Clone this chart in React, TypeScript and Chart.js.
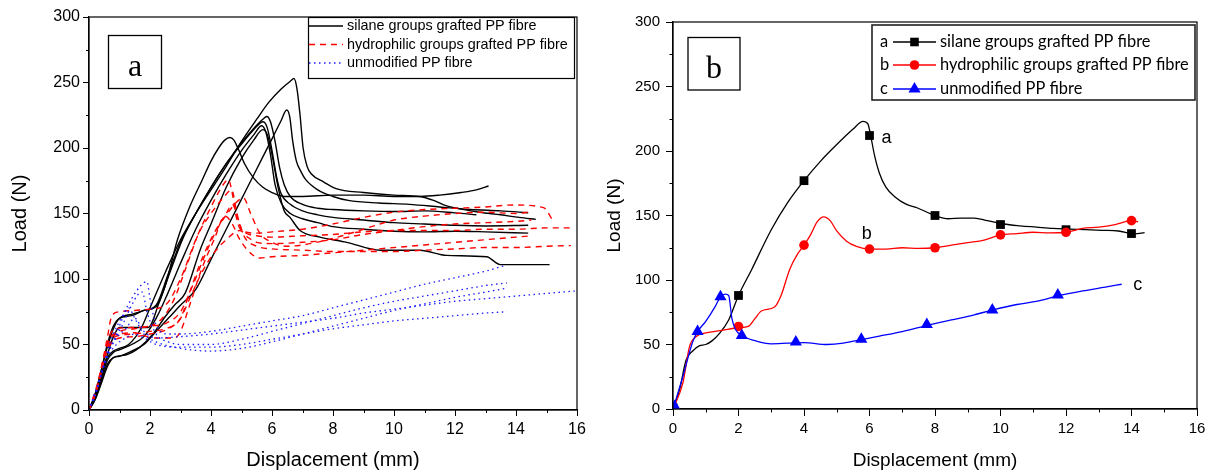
import React, { useEffect, useRef } from "react";
import { Chart, registerables } from "chart.js";

Chart.register(...registerables);

type P = [number, number];

// ---------------- Panel (a): individual specimens ----------------
const silaneA1: P[] = [[0,0],[0.2,10],[0.4,26],[0.6,40],[0.8,45],[1.0,47],[1.3,50],[1.7,62],[2.0,78],[2.5,105],[3.0,130],[3.5,150],[4.0,168],[4.5,186],[5.0,205],[5.5,222],[5.9,235],[6.3,245],[6.6,251],[6.72,253],[6.82,245],[6.92,225],[7.02,200],[7.15,186],[7.3,180],[7.7,174],[8.1,169],[9.0,166],[10.0,164],[10.85,163],[11.3,160],[11.7,156],[12.3,153],[12.8,151],[13.5,149],[14.1,147],[14.65,145.5]];
const silaneA2: P[] = [[0,0],[0.2,8],[0.4,22],[0.6,35],[0.8,40],[1.0,41],[1.4,45],[1.8,50],[2.2,60],[2.6,70],[3.0,80],[3.5,92],[4.0,115],[4.5,138],[5.0,161],[5.5,184],[6.0,207],[6.3,221],[6.48,229],[6.58,224],[6.68,205],[6.8,190],[6.95,182],[7.1,176],[7.5,168],[8.0,163],[8.5,160],[9.5,158],[10.5,157],[11.5,155],[12.5,153],[13.5,152],[14.4,150.6]];
const silaneA3: P[] = [[0,0],[0.2,12],[0.4,30],[0.6,48],[0.8,62],[1.0,70],[1.4,73],[1.8,76],[2.2,80],[2.6,104],[3.0,128],[3.5,150],[4.0,170],[4.5,188],[5.0,204],[5.4,215],[5.7,222],[5.83,224],[5.95,220],[6.1,205],[6.25,185],[6.4,172],[6.6,163],[7.0,157],[7.5,154],[8.0,153],[9.0,152],[10.0,151.5],[11.0,152],[12.0,150.5],[12.7,149]];
const silaneA4: P[] = [[0,0],[0.2,10],[0.4,26],[0.6,42],[0.8,56],[1.0,63],[1.5,63],[1.94,63],[2.3,82],[2.7,108],[3.1,132],[3.5,150],[4.0,170],[4.5,188],[5.0,203],[5.4,214],[5.71,220],[5.85,215],[6.0,198],[6.15,178],[6.3,165],[6.6,157],[7.0,152],[7.5,149],[8.0,147],[9.0,145],[10.0,143],[11.0,142],[12.0,141],[13.0,140.5],[14.4,141]];
const silaneA5: P[] = [[0,0],[0.2,9],[0.4,24],[0.6,38],[0.8,44],[1.0,46],[1.4,50],[1.8,56],[2.2,70],[2.6,90],[3.0,112],[3.5,138],[4.0,160],[4.5,180],[5.0,198],[5.4,210],[5.66,217],[5.8,212],[5.95,195],[6.1,172],[6.3,158],[6.6,150],[7.0,146],[7.5,143],[8.0,140],[9.0,138],[10.0,136.5],[11.0,136],[12.0,136.5],[13.0,136],[14.4,135]];
const silaneA6: P[] = [[0,0],[0.2,12],[0.4,30],[0.6,50],[0.8,64],[1.0,70],[1.4,72],[1.8,76],[2.2,79],[2.5,95],[2.9,130],[3.3,155],[3.7,175],[4.0,190],[4.25,200],[4.45,206],[4.62,208],[4.75,206],[4.9,199],[5.1,188],[5.4,177],[5.7,170],[6.0,166],[6.4,163],[7.0,163],[8.0,164],[9.0,164],[10.0,163],[10.85,163],[11.5,164],[12.2,166],[12.7,168],[13.1,171]];
const silaneA7: P[] = [[0,0],[0.2,8],[0.4,20],[0.6,33],[0.8,40],[1.2,42],[1.67,48],[2.1,58],[2.49,71],[2.8,80],[3.15,89],[3.64,122],[4.0,142],[4.5,170],[5.0,192],[5.4,206],[5.7,214],[5.85,210],[6.0,195],[6.2,170],[6.4,152],[6.59,147],[6.92,137],[7.57,132],[8.45,128],[9.54,122],[10.85,122],[11.73,118],[13.04,117],[13.48,111],[15.1,111]];

const hydroA1: P[] = [[0,0],[0.2,12],[0.4,32],[0.6,55],[0.75,72],[1.0,75],[1.5,76],[2.0,77],[2.5,80],[3.0,100],[3.5,130],[4.0,155],[4.4,172],[4.57,176],[4.7,165],[4.85,145],[5.0,137],[5.5,135],[6.0,136],[7.0,138],[8.0,142],[9.0,147],[10.0,151],[11.0,153],[12.0,154],[13.0,155],[13.9,156.5],[14.9,154.5],[15.2,145]];
const hydroA2: P[] = [[0,0],[0.3,22],[0.5,42],[0.7,58],[0.9,62],[1.5,63],[2.0,64],[2.4,70],[2.8,85],[3.2,110],[3.6,135],[4.0,150],[4.4,162],[4.68,168],[4.85,150],[5.0,138],[5.5,133],[6.0,132],[7.0,133],[8.0,134],[9.0,136],[10.0,137],[11.0,137],[12.0,137],[13.0,138],[14.0,138],[15.0,139],[15.8,139]];
const hydroA3: P[] = [[0,0],[0.3,20],[0.5,40],[0.7,55],[1.0,60],[1.5,62],[2.0,64],[2.5,66],[3.0,75],[3.4,95],[3.8,118],[4.2,138],[4.6,152],[4.9,160],[5.06,162],[5.3,150],[5.6,135],[6.0,128],[6.5,125],[7.0,126],[8.0,131],[9.0,138],[9.54,142],[10.0,145],[11.0,148],[12.0,150],[13.0,151],[14.0,150],[14.4,151]];
const hydroA4: P[] = [[0,0],[0.25,15],[0.5,38],[0.7,52],[1.0,57],[1.5,58],[2.0,60],[2.5,62],[3.0,70],[3.3,90],[3.7,115],[4.1,135],[4.5,150],[4.7,157],[4.9,145],[5.1,132],[5.5,125],[6.0,123],[7.0,122],[8.0,121],[9.0,121],[10.0,121],[11.0,122],[12.0,123],[13.0,124],[14.0,124],[15.0,125],[15.8,125.5]];
const hydroA5: P[] = [[0,0],[0.3,20],[0.5,40],[0.7,55],[1.0,58],[1.5,59],[2.1,55],[2.8,55],[3.0,60],[3.3,80],[3.7,108],[4.1,130],[4.46,148],[4.7,142],[4.9,132],[5.2,122],[5.6,116],[6.0,117],[7.0,118],[8.0,120],[9.0,122],[10.0,124],[11.0,126],[12.0,128],[13.0,130],[14.0,132],[14.5,133]];
const hydroA6: P[] = [[0,0],[0.3,20],[0.5,40],[0.7,50],[1.0,55],[1.5,56],[2.0,58],[2.6,62],[3.0,70],[3.3,85],[3.7,105],[4.1,120],[4.5,130],[4.95,137],[5.2,132],[5.5,128],[6.0,127],[7.0,128],[8.0,130],[9.0,134],[10.0,137],[11.0,140],[12.0,142],[13.0,143],[14.0,144],[14.5,145]];

const unmodA1: P[] = [[0,0],[0.2,10],[0.4,28],[0.6,45],[0.8,58],[1.1,72],[1.4,85],[1.7,95],[1.9,98],[2.0,85],[2.2,65],[2.6,58],[3.0,58],[4.0,60],[5.0,64],[6.0,68],[7.0,72],[8.0,78],[9.0,84],[10.0,90],[11.0,96],[12.0,101],[13.0,106],[13.6,110]];
const unmodA2: P[] = [[0,0],[0.2,12],[0.5,35],[0.8,52],[1.1,65],[1.4,80],[1.6,88],[1.75,90],[1.9,75],[2.2,58],[2.6,52],[3.0,50],[4.0,50],[5.0,54],[6.0,60],[7.0,66],[8.0,72],[9.0,78],[10.0,83],[11.0,87],[12.0,91],[13.0,95],[13.7,97]];
const unmodA3: P[] = [[0,0],[0.3,18],[0.6,42],[0.9,58],[1.1,70],[1.3,78],[1.5,70],[1.8,58],[2.2,52],[3.0,47],[4.0,45],[5.0,47],[6.0,52],[7.0,58],[8.0,64],[9.0,70],[10.0,76],[11.0,81],[12.0,86],[13.0,90],[13.7,93]];
const unmodA4: P[] = [[0,0],[0.3,20],[0.6,42],[0.9,55],[1.2,62],[1.5,70],[1.8,60],[2.2,55],[3.0,56],[4.0,58],[5.0,61],[6.0,64],[7.0,67],[8.0,70],[9.0,74],[10.0,77],[11.0,80],[12.0,83],[13.0,85],[14.0,87],[15.0,89],[16.0,91]];
const unmodA5: P[] = [[0,0],[0.3,20],[0.6,40],[0.9,50],[1.2,55],[1.5,58],[1.8,55],[2.2,50],[3.0,48],[4.0,48],[5.0,50],[6.0,54],[7.0,58],[8.0,62],[9.0,65],[10.0,68],[11.0,70],[12.0,72],[13.0,74],[13.7,75]];

const silaneCurvesA = [silaneA1, silaneA2, silaneA3, silaneA4, silaneA5, silaneA6, silaneA7];
const hydroCurvesA = [hydroA1, hydroA2, hydroA3, hydroA4, hydroA5, hydroA6];
const unmodCurvesA = [unmodA1, unmodA2, unmodA3, unmodA4, unmodA5];

// ---------------- Panel (b): representative curves ----------------
const silaneB: P[] = [[0,0],[0.2,15],[0.4,38],[0.6,45],[0.8,49],[1.0,50],[1.2,53],[1.4,58],[1.7,69],[2.0,88],[2.4,108],[3.0,139],[3.5,160],[4.0,177],[4.5,192],[5.0,205],[5.5,217],[5.8,223],[5.95,221],[6.05,210],[6.15,197],[6.3,183],[6.5,172],[6.8,164],[7.1,159],[7.45,156],[8.0,150],[8.4,147.5],[8.8,148],[9.2,148],[9.6,146],[10.1,143.4],[10.6,142],[11.1,141],[11.6,140],[12.1,139.5],[12.6,139],[13.1,138.5],[13.6,138],[14.1,135.7],[14.4,136.7]];
const silaneBMarkers: P[] = [[0,1],[2,88],[4,177],[6,212],[8,150],[10,143],[12,139],[14,136]];
const hydroB: P[] = [[0,0],[0.3,20],[0.5,48],[0.7,56],[1.0,59],[1.5,61],[2.0,63],[2.3,64],[2.5,70],[2.7,76],[3.1,79],[3.3,88],[3.56,108],[3.8,120],[4.0,127],[4.2,135],[4.4,145],[4.6,149],[4.8,146],[5.0,138],[5.3,130],[5.6,126],[6.0,124],[6.5,124],[7.0,125],[7.5,124.5],[8.0,125],[8.5,127],[9.0,129],[9.5,131],[10.0,135],[10.5,136],[11.0,137],[11.5,136.5],[12.0,137],[12.5,140],[13.0,141],[13.5,143],[14.0,146],[14.2,145]];
const hydroBMarkers: P[] = [[0,1],[2,64],[4,127],[6,124],[8,125],[10,135],[12,137],[14,146]];
const unmodB: P[] = [[0,0],[0.3,25],[0.6,52],[0.75,60],[1.0,68],[1.3,80],[1.45,87],[1.6,89],[1.7,88],[1.8,70],[1.9,62],[2.1,57],[2.5,53],[3.0,50.5],[3.5,51],[4.0,51.5],[4.7,50],[5.2,51],[5.8,54],[6.3,56.5],[7.0,60],[7.8,65],[8.5,69],[9.2,73],[9.8,77],[10.5,81],[11.2,84],[11.8,88],[12.5,91.5],[13.2,94.5],[13.7,96.7]];
const unmodBMarkers: P[] = [[0.05,2],[0.75,60],[1.45,87],[2.1,57],[3.75,52],[5.75,54],[7.75,65.5],[9.75,76.7],[11.75,88.3]];

const curveTagsB = [
  { t: "a", x: 6.37, y: 210 },
  { t: "b", x: 5.76, y: 136 },
  { t: "c", x: 14.05, y: 96 },
];

const legendLabels = [
  "silane groups grafted PP fibre",
  "hydrophilic groups grafted PP fibre",
  "unmodified PP fibre",
];
const seriesLetters = ["a", "b", "c"];
const xTitle = "Displacement (mm)";
const yTitle = "Load (N)";

// ---------------- styles ----------------
const FONT = "'Liberation Sans', Arial, Helvetica, sans-serif";
const SERIF = "'Liberation Serif', 'Times New Roman', serif";
const LEGB = "Lato, 'Open Sans', sans-serif";
const BLACK = "#000000";
const RED = "#ff0000";
const BLUE = "#1a1aff";
const BLUE_B = "#0000ff";

const toXY = (pts: P[]) => pts.map(([x, y]) => ({ x, y }));

function lineDs(pts: P[], color: string, dash: number[], width: number) {
  return {
    data: toXY(pts),
    borderColor: color,
    backgroundColor: color,
    borderWidth: width,
    borderDash: dash,
    pointRadius: 0,
    pointHoverRadius: 0,
    fill: false,
    cubicInterpolationMode: "monotone",
  };
}

function markerDs(pts: P[], color: string, style: string, radius: number) {
  return {
    data: toXY(pts),
    showLine: false,
    pointStyle: style,
    pointRadius: radius,
    pointHoverRadius: radius,
    pointBackgroundColor: color,
    pointBorderColor: color,
    pointBorderWidth: 0,
    borderColor: color,
    backgroundColor: color,
  };
}

function axes(o: {
  tickSize: number; titleSize: number; yWidth: number; xHeight: number;
  tickLen: number; yPad: number; yTitlePad: number;
}) {
  const common = {
    type: "linear",
    grid: { drawOnChartArea: false, drawTicks: true, tickLength: o.tickLen, color: BLACK, lineWidth: 1 },
    border: { display: true, color: BLACK, width: 1.2 },
  };
  return {
    x: {
      ...common,
      min: 0, max: 16,
      ticks: { stepSize: 2, color: BLACK, font: { family: FONT, size: o.tickSize }, padding: 4, maxRotation: 0 },
      title: { display: true, text: xTitle, color: BLACK, font: { family: FONT, size: o.titleSize }, padding: { top: 0, bottom: 3 } },
      afterFit: (s: any) => { s.height = o.xHeight; },
    },
    y: {
      ...common,
      min: 0, max: 300,
      ticks: { stepSize: 50, color: BLACK, font: { family: FONT, size: o.tickSize }, padding: o.yPad },
      title: { display: true, text: yTitle, color: BLACK, font: { family: FONT, size: o.titleSize }, padding: { top: o.yTitlePad, bottom: 0 } },
      afterFit: (s: any) => { s.width = o.yWidth; },
    },
  };
}

function drawFrameAndMinor(chart: any, minorLen: number) {
  const { ctx, chartArea: ca, scales } = chart;
  ctx.save();
  ctx.strokeStyle = BLACK;
  ctx.lineWidth = 1.2;
  ctx.strokeRect(ca.left, ca.top, ca.right - ca.left, ca.bottom - ca.top);
  ctx.lineWidth = 1;
  ctx.beginPath();
  for (let v = 1; v < 16; v += 2) {
    const px = Math.round(scales.x.getPixelForValue(v)) + 0.5;
    ctx.moveTo(px, ca.bottom);
    ctx.lineTo(px, ca.bottom + minorLen);
  }
  for (let v = 25; v < 300; v += 50) {
    const py = Math.round(scales.y.getPixelForValue(v)) + 0.5;
    ctx.moveTo(ca.left - minorLen, py);
    ctx.lineTo(ca.left, py);
  }
  ctx.stroke();
  ctx.restore();
}

function drawLetterBox(ctx: any, x: number, y: number, w: number, h: number, letter: string) {
  ctx.save();
  ctx.fillStyle = "#fff";
  ctx.fillRect(x, y, w, h);
  ctx.strokeStyle = BLACK;
  ctx.lineWidth = 1.3;
  ctx.strokeRect(x, y, w, h);
  ctx.fillStyle = BLACK;
  ctx.font = `32px ${SERIF}`;
  ctx.textAlign = "center";
  ctx.textBaseline = "alphabetic";
  ctx.fillText(letter, x + w / 2, y + 40);
  ctx.restore();
}

const decoA = {
  id: "decoA",
  afterDraw(chart: any) {
    const { ctx } = chart;
    drawFrameAndMinor(chart, 3);
    drawLetterBox(ctx, 108.5, 35.5, 53, 53, "a");
    // legend
    ctx.save();
    const bx = 308.5, by = 17.5, bw = 266, bh = 61;
    ctx.fillStyle = "#fff";
    ctx.fillRect(bx, by, bw, bh);
    ctx.strokeStyle = BLACK;
    ctx.lineWidth = 1.2;
    ctx.strokeRect(bx, by, bw, bh);
    const rows = [26, 44.5, 63];
    const styles = [
      { c: BLACK, d: [] as number[], w: 1.4 },
      { c: RED, d: [6, 5], w: 1.4 },
      { c: BLUE, d: [1.5, 3.5], w: 1.3 },
    ];
    ctx.font = `14.4px ${FONT}`;
    ctx.textBaseline = "middle";
    ctx.textAlign = "left";
    rows.forEach((y, i) => {
      ctx.beginPath();
      ctx.strokeStyle = styles[i].c;
      ctx.lineWidth = styles[i].w;
      ctx.setLineDash(styles[i].d);
      ctx.moveTo(309, y);
      ctx.lineTo(343, y);
      ctx.stroke();
      ctx.setLineDash([]);
      ctx.fillStyle = BLACK;
      ctx.fillText(legendLabels[i], 347, y + 0.5);
    });
    ctx.restore();
  },
};

function drawMarker(ctx: any, shape: string, x: number, y: number, color: string) {
  ctx.fillStyle = color;
  ctx.beginPath();
  if (shape === "rect") {
    ctx.rect(x - 4.3, y - 4.3, 8.6, 8.6);
  } else if (shape === "circle") {
    ctx.arc(x, y, 4.8, 0, Math.PI * 2);
  } else {
    const r = 7;
    ctx.moveTo(x, y - r);
    ctx.lineTo(x + r * 0.866, y + r * 0.5);
    ctx.lineTo(x - r * 0.866, y + r * 0.5);
    ctx.closePath();
  }
  ctx.fill();
}

const decoB = {
  id: "decoB",
  afterDraw(chart: any) {
    const { ctx, scales } = chart;
    drawFrameAndMinor(chart, 3.5);
    drawLetterBox(ctx, 88, 37.5, 52, 52.5, "b");
    ctx.save();
    // curve tags
    ctx.fillStyle = BLACK;
    ctx.font = `18px ${FONT}`;
    ctx.textAlign = "left";
    ctx.textBaseline = "middle";
    curveTagsB.forEach((t) => {
      ctx.fillText(t.t, scales.x.getPixelForValue(t.x), scales.y.getPixelForValue(t.y));
    });
    // legend
    const bx = 272, by = 25, bw = 323, bh = 75;
    ctx.fillStyle = "#fff";
    ctx.fillRect(bx, by, bw, bh);
    ctx.strokeStyle = "#222";
    ctx.lineWidth = 1.6;
    ctx.strokeRect(bx, by, bw, bh);
    const rows = [42, 65, 89];
    const cols = [BLACK, RED, BLUE_B];
    const shapes = ["rect", "circle", "triangle"];
    ctx.font = `16.4px ${LEGB}`;
    ctx.textBaseline = "middle";
    rows.forEach((y, i) => {
      ctx.fillStyle = BLACK;
      ctx.fillText(seriesLetters[i], 280, y);
      ctx.beginPath();
      ctx.strokeStyle = cols[i];
      ctx.lineWidth = 1.5;
      ctx.moveTo(293, y);
      ctx.lineTo(336, y);
      ctx.stroke();
      drawMarker(ctx, shapes[i], 314.5, y, cols[i]);
      ctx.fillStyle = BLACK;
      ctx.fillText(legendLabels[i], 340, y);
    });
    ctx.restore();
  },
};

export default function App() {
  const refA = useRef<HTMLCanvasElement | null>(null);
  const refB = useRef<HTMLCanvasElement | null>(null);

  useEffect(() => {
    const dsA: any[] = [
      ...unmodCurvesA.map((c) => lineDs(c, BLUE, [1.5, 3.5], 1.3)),
      ...hydroCurvesA.map((c) => lineDs(c, RED, [6, 5], 1.4)),
      ...silaneCurvesA.map((c) => lineDs(c, BLACK, [], 1.4)),
    ];
    const chartA = new Chart(refA.current as HTMLCanvasElement, {
      type: "line",
      data: { datasets: dsA },
      options: {
        animation: false,
        responsive: false,
        events: [],
        layout: { padding: { top: 17, right: 23, left: 0, bottom: 0 } },
        plugins: { legend: { display: false }, tooltip: { enabled: false } },
        scales: axes({ tickSize: 16, titleSize: 20, yWidth: 89, xHeight: 65, tickLen: 6, yPad: 3, yTitlePad: 8 }) as any,
      } as any,
      plugins: [decoA],
    } as any);

    const dsB: any[] = [
      markerDs(unmodBMarkers, BLUE_B, "triangle", 7),
      lineDs(unmodB, BLUE_B, [], 1.3),
      markerDs(hydroBMarkers, RED, "circle", 4.8),
      lineDs(hydroB, RED, [], 1.3),
      markerDs(silaneBMarkers, BLACK, "rect", 6.2),
      lineDs(silaneB, BLACK, [], 1.3),
    ];
    const chartB = new Chart(refB.current as HTMLCanvasElement, {
      type: "line",
      data: { datasets: dsB },
      options: {
        animation: false,
        responsive: false,
        events: [],
        layout: { padding: { top: 22, right: 17, left: 0, bottom: 0 } },
        plugins: { legend: { display: false }, tooltip: { enabled: false } },
        scales: axes({ tickSize: 15, titleSize: 19, yWidth: 73, xHeight: 66, tickLen: 7, yPad: 6, yTitlePad: 3 }) as any,
      } as any,
      plugins: [decoB],
    } as any);

    return () => {
      chartA.destroy();
      chartB.destroy();
    };
  }, []);

  return (
    <div style={{ position: "absolute", left: 0, top: 0, width: 1214, height: 475, background: "#fff" }}>
      <canvas ref={refA} width={600} height={475} style={{ position: "absolute", left: 0, top: 0, width: 600, height: 475 }} />
      <canvas ref={refB} width={614} height={475} style={{ position: "absolute", left: 600, top: 0, width: 614, height: 475 }} />
    </div>
  );
}
